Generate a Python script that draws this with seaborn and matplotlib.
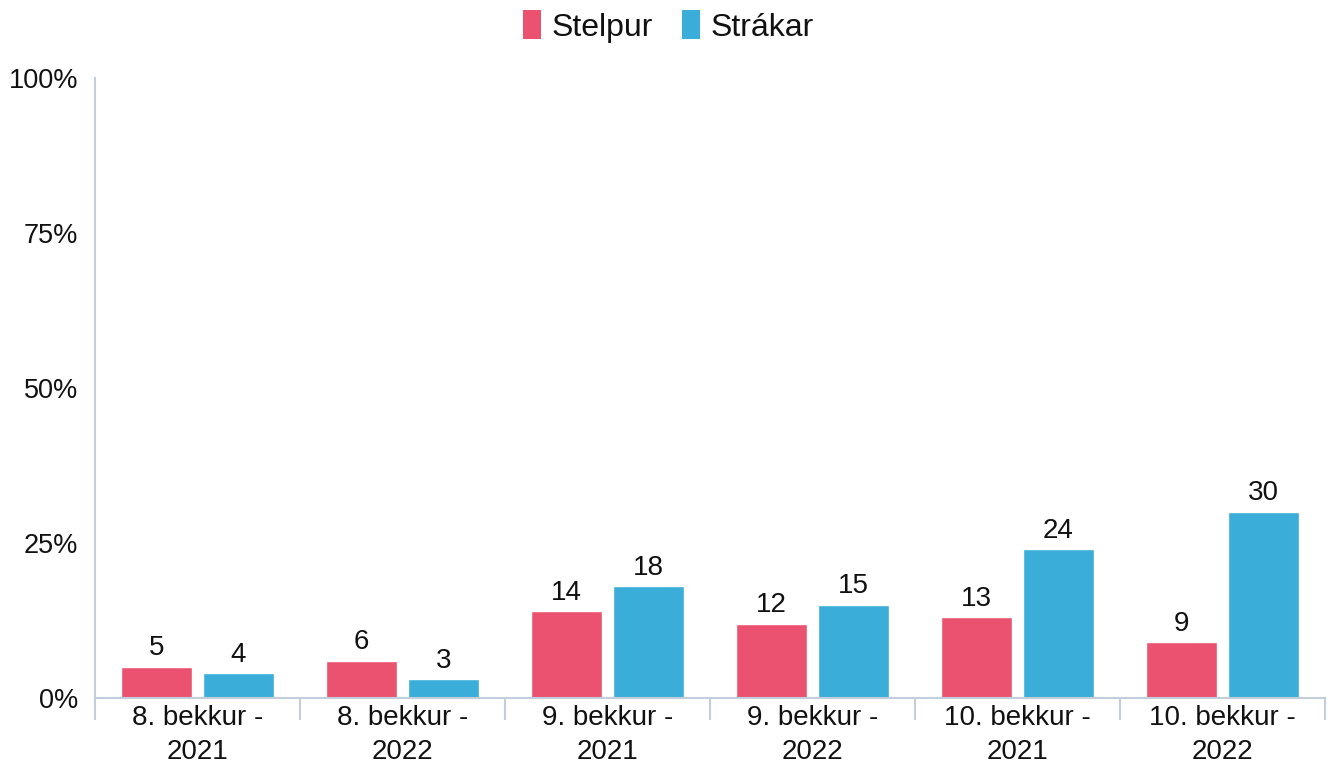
import matplotlib
matplotlib.use("Agg")
import matplotlib.pyplot as plt
import seaborn as sns
import pandas as pd
import numpy as np
from matplotlib.ticker import FixedLocator, PercentFormatter
from matplotlib.patches import Patch

categories = ["8. bekkur -\n2021", "8. bekkur -\n2022", "9. bekkur -\n2021",
              "9. bekkur -\n2022", "10. bekkur -\n2021", "10. bekkur -\n2022"]
stelpur = [5, 6, 14, 12, 13, 9]
strakar = [4, 3, 18, 15, 24, 30]
series_names = ["Stelpur", "Strákar"]
colors = ["#EA526F", "#3AAED8"]

df = pd.DataFrame({
    "flokkur": categories * 2,
    "kyn": [series_names[0]] * len(categories) + [series_names[1]] * len(categories),
    "gildi": stelpur + strakar,
})

sns.set_style("white")
plt.rcParams["font.family"] = ["Liberation Sans", "DejaVu Sans"]
plt.rcParams["text.color"] = "#111111"

fig = plt.figure(figsize=(13.37, 7.65), dpi=100)
ax = fig.add_axes([95 / 1337, 1 - 698 / 765, (1325 - 95) / 1337, (698 - 78) / 765])

sns.barplot(data=df, x="flokkur", y="gildi", hue="kyn", palette=colors,
            width=0.8, gap=0.122, ax=ax, legend=False, saturation=1)

for cont in ax.containers:
    ax.bar_label(cont, labels=[f"{v:.0f}" for v in cont.datavalues],
                 padding=4, fontsize=20, color="#111111")

ax.set_ylim(0, 100)
ax.set_xlim(-0.5, len(categories) - 0.5)
ax.yaxis.set_major_locator(FixedLocator([0, 25, 50, 75, 100]))
ax.yaxis.set_major_formatter(PercentFormatter(decimals=0))
ax.set_xlabel("")
ax.set_ylabel("")

spine_col = "#C3CEDD"
for side in ["top", "right"]:
    ax.spines[side].set_visible(False)
for side in ["left", "bottom"]:
    ax.spines[side].set_color(spine_col)
    ax.spines[side].set_linewidth(1.5)

ax.tick_params(axis="y", left=False, length=0, labelsize=19.5, pad=12, labelcolor="#111111")
ax.tick_params(axis="x", which="major", length=0, labelsize=20, pad=5, labelcolor="#111111")
ax.xaxis.set_minor_locator(FixedLocator(np.arange(-0.5, len(categories), 1.0)))
ax.tick_params(axis="x", which="minor", bottom=True, length=16, width=1.5,
               color=spine_col, direction="out")
for lbl in ax.get_xticklabels():
    lbl.set_linespacing(1.4)

handles = [Patch(facecolor=c, edgecolor="none") for c in colors]
leg = fig.legend(handles, series_names, loc="upper center", bbox_to_anchor=(0.5, 1.024),
                 ncol=2, frameon=False, fontsize=23, handlelength=0.55, handleheight=1.0,
                 handletextpad=0.35, columnspacing=0.9)
for t in leg.get_texts():
    t.set_color("#111111")

fig.savefig("out.png", dpi=100)
